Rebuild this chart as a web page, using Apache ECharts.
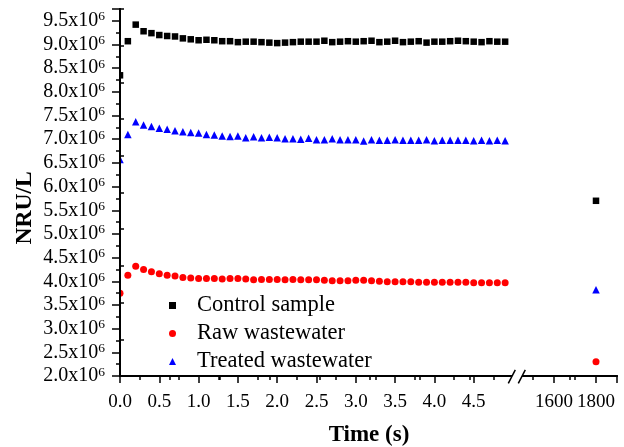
<!DOCTYPE html>
<html>
<head>
<meta charset="utf-8">
<script src="https://cdn.jsdelivr.net/npm/echarts@6/dist/echarts.min.js"></script>
<style>
  html, body { margin: 0; padding: 0; background: #fff; }
  #chart { width: 624px; height: 447px; }
</style>
</head>
<body>
<div id="chart"></div>
<script>
// time points (s) of the short run, left part of the broken axis
var times = [0, 0.1, 0.2, 0.3, 0.4, 0.5, 0.6, 0.7, 0.8, 0.9,
             1.0, 1.1, 1.2, 1.3, 1.4, 1.5, 1.6, 1.7, 1.8, 1.9,
             2.0, 2.1, 2.2, 2.3, 2.4, 2.5, 2.6, 2.7, 2.8, 2.9,
             3.0, 3.1, 3.2, 3.3, 3.4, 3.5, 3.6, 3.7, 3.8, 3.9,
             4.0, 4.1, 4.2, 4.3, 4.4, 4.5, 4.6, 4.7, 4.8, 4.9];
// long time point, right part of the axis
var longTime = 1800;

// NRU/L in units of 10^6
var control = [8.35, 9.07, 9.42, 9.28, 9.24, 9.20, 9.18, 9.17, 9.13, 9.11,
               9.09, 9.10, 9.09, 9.07, 9.07, 9.05, 9.06, 9.06, 9.05, 9.04,
               9.03, 9.04, 9.05, 9.06, 9.06, 9.06, 9.08, 9.05, 9.06, 9.07,
               9.06, 9.07, 9.08, 9.05, 9.06, 9.08, 9.05, 9.06, 9.07, 9.04,
               9.06, 9.06, 9.07, 9.08, 9.07, 9.06, 9.05, 9.07, 9.06, 9.06];
var raw = [3.75, 4.13, 4.32, 4.25, 4.20, 4.16, 4.13, 4.11, 4.08, 4.07,
           4.06, 4.06, 4.06, 4.05, 4.06, 4.06, 4.05, 4.03, 4.04, 4.04,
           4.04, 4.03, 4.04, 4.03, 4.03, 4.03, 4.02, 4.01, 4.01, 4.01,
           4.02, 4.02, 4.01, 4.00, 3.99, 3.99, 3.99, 3.99, 3.98, 3.98,
           3.98, 3.98, 3.98, 3.98, 3.98, 3.97, 3.97, 3.97, 3.97, 3.97];
var treated = [6.57, 7.10, 7.37, 7.30, 7.27, 7.23, 7.21, 7.18, 7.16, 7.14,
               7.13, 7.10, 7.09, 7.07, 7.06, 7.07, 7.03, 7.05, 7.03, 7.04,
               7.03, 7.01, 7.01, 7.00, 7.02, 6.99, 6.99, 7.01, 6.99, 6.99,
               6.99, 6.96, 6.99, 6.98, 6.98, 6.99, 6.98, 6.98, 6.98, 6.99,
               6.97, 6.98, 6.98, 6.98, 6.98, 6.97, 6.98, 6.97, 6.98, 6.97];
var controlLong = 5.70;
var rawLong = 2.30;
var treatedLong = 3.82;

var seriesNames = ['Control sample', 'Raw wastewater', 'Treated wastewater'];

var FONT = '"Liberation Serif", "Times New Roman", serif';

function pairs(ys) {
  return times.map(function (t, i) { return [t, ys[i]]; });
}

var myChart = echarts.init(document.getElementById('chart'), null, { renderer: 'canvas' });

var lineStyle = { color: '#000', width: 2 };
var tickStyle = { color: '#000', width: 1.5 };
var gridBox = { top: 9, height: 367, outerBoundsMode: 'none' };

myChart.setOption({
  animation: false,
  backgroundColor: '#fff',
  grid: [
    Object.assign({ left: 120, width: 393 }, gridBox),
    Object.assign({ left: 512, width: 105 }, gridBox),
    Object.assign({ left: 120, width: 497 }, gridBox)
  ],
  legend: {
    orient: 'vertical',
    left: 169,
    top: 294,
    padding: 0,
    itemGap: 5,
    itemWidth: 7,
    itemHeight: 7,
    data: seriesNames,
    textStyle: { fontFamily: FONT, fontSize: 22.5, lineHeight: 23, color: '#000', padding: [0, 0, 0, 16] }
  },
  xAxis: [
    {
      gridIndex: 0, type: 'value', position: 'bottom',
      min: 0, max: 5, interval: 0.5,
      axisLine: { lineStyle: lineStyle },
      axisTick: { inside: false, length: 7, lineStyle: tickStyle },
      minorTick: { show: true, splitNumber: 2, length: 4, lineStyle: tickStyle },
      splitLine: { show: false },
      axisLabel: {
        margin: 17, fontFamily: FONT, fontSize: 19, color: '#000',
        formatter: function (v) { return v === 5 ? '' : v.toFixed(1); }
      }
    },
    {
      gridIndex: 1, type: 'value', position: 'bottom',
      min: 1400, max: 1900, interval: 200,
      axisLine: { lineStyle: lineStyle },
      axisTick: { inside: false, length: 7, lineStyle: tickStyle },
      minorTick: { show: true, splitNumber: 2, length: 4, lineStyle: tickStyle },
      splitLine: { show: false },
      axisLabel: {
        margin: 17, fontFamily: FONT, fontSize: 19, color: '#000',
        formatter: function (v) { return (v === 1600 || v === 1800) ? String(v) : ''; }
      }
    },
    {
      gridIndex: 2, type: 'value', position: 'top',
      min: 0, max: 9.94, interval: 1,
      axisLine: { lineStyle: lineStyle },
      axisTick: { inside: true, length: 4, lineStyle: tickStyle },
      splitLine: { show: false },
      axisLabel: { show: false }
    }
  ],
  yAxis: [
    {
      gridIndex: 0, type: 'value', position: 'left', z: 10,
      min: 2, max: 9.75, interval: 0.5,
      axisLine: { show: true, lineStyle: lineStyle },
      axisTick: { show: true, inside: false, length: 8, lineStyle: tickStyle },
      minorTick: { show: true, splitNumber: 2, length: 4, lineStyle: tickStyle },
      splitLine: { show: false },
      axisLabel: {
        margin: 15, color: '#000',
        formatter: function (v) {
          if (v > 9.6) return '';
          return '{a|' + v.toFixed(1) + 'x10}{b|6}';
        },
        rich: {
          a: { fontFamily: FONT, fontSize: 20, lineHeight: 22, color: '#000' },
          b: { fontFamily: FONT, fontSize: 13.5, lineHeight: 22, verticalAlign: 'top', padding: [0, 0, 9, 0], color: '#000' }
        }
      }
    },
    {
      gridIndex: 1, type: 'value', show: false,
      min: 2, max: 9.75
    },
    {
      gridIndex: 2, type: 'value', position: 'right',
      min: 0, max: 10, interval: 1,
      axisLine: { show: true, lineStyle: lineStyle },
      axisTick: { show: true, inside: false, length: 4, lineStyle: tickStyle },
      splitLine: { show: false },
      axisLabel: { show: false }
    }
  ],
  series: [
    {
      name: seriesNames[0], type: 'scatter', xAxisIndex: 0, yAxisIndex: 0,
      symbol: 'rect', symbolSize: 6.5, itemStyle: { color: '#000', opacity: 1 },
      data: pairs(control)
    },
    {
      name: seriesNames[1], type: 'scatter', xAxisIndex: 0, yAxisIndex: 0,
      symbol: 'circle', symbolSize: 7, itemStyle: { color: '#ff0000', opacity: 1 },
      data: pairs(raw)
    },
    {
      name: seriesNames[2], type: 'scatter', xAxisIndex: 0, yAxisIndex: 0,
      symbol: 'triangle', symbolSize: 7.5, itemStyle: { color: '#0000ff', opacity: 1 },
      data: pairs(treated)
    },
    {
      name: seriesNames[0], type: 'scatter', xAxisIndex: 1, yAxisIndex: 1,
      symbol: 'rect', symbolSize: 6.5, itemStyle: { color: '#000', opacity: 1 },
      data: [[longTime, controlLong]]
    },
    {
      name: seriesNames[1], type: 'scatter', xAxisIndex: 1, yAxisIndex: 1,
      symbol: 'circle', symbolSize: 7, itemStyle: { color: '#ff0000', opacity: 1 },
      data: [[longTime, rawLong]]
    },
    {
      name: seriesNames[2], type: 'scatter', xAxisIndex: 1, yAxisIndex: 1,
      symbol: 'triangle', symbolSize: 7.5, itemStyle: { color: '#0000ff', opacity: 1 },
      data: [[longTime, treatedLong]]
    }
  ],
  graphic: [
    // hides the half of the t=0 symbols that falls left of the axis
    { type: 'rect', z: 5, shape: { x: 111, y: 11, width: 9, height: 364 }, style: { fill: '#fff' } },
    // axis break
    { type: 'polygon', z: 100, shape: { points: [[508.3, 383.3], [515.3, 369.8], [525.3, 369.8], [518.3, 383.3]] }, style: { fill: '#fff' } },
    { type: 'line', z: 101, shape: { x1: 508.3, y1: 383.3, x2: 515.3, y2: 369.8 }, style: { stroke: '#000', lineWidth: 1.5 } },
    { type: 'line', z: 101, shape: { x1: 518.3, y1: 383.3, x2: 525.3, y2: 369.8 }, style: { stroke: '#000', lineWidth: 1.5 } },
    // axis titles
    {
      type: 'text', z: 100, x: 369, y: 435,
      style: { text: 'Time (s)', fontFamily: FONT, fontSize: 23, fontWeight: 'bold', fill: '#000', align: 'center', verticalAlign: 'middle' }
    },
    {
      type: 'text', z: 100, x: 25, y: 208, rotation: Math.PI / 2,
      style: { text: 'NRU/L', fontFamily: FONT, fontSize: 23.5, fontWeight: 'bold', fill: '#000', align: 'center', verticalAlign: 'middle' }
    }
  ]
});
</script>
</body>
</html>
